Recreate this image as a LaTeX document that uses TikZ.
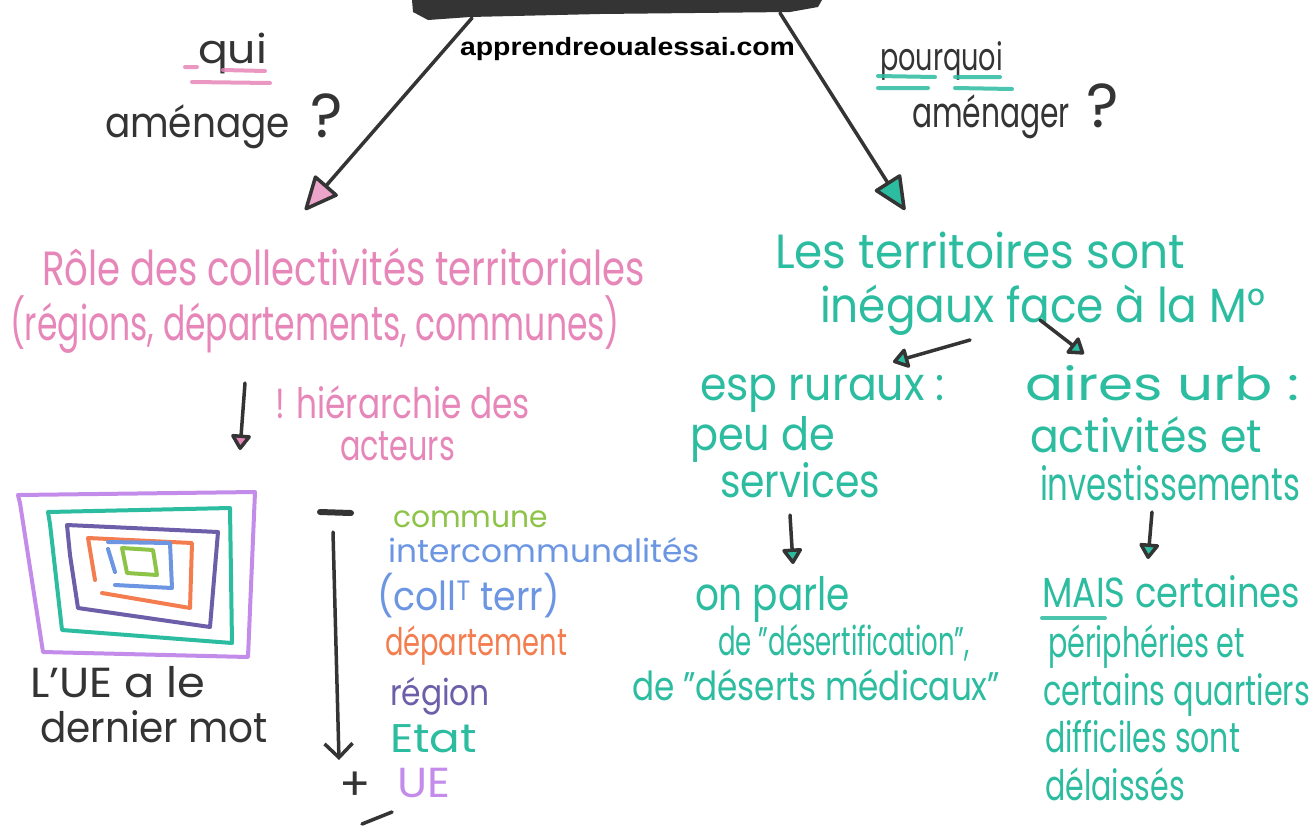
\documentclass[tikz,border=0pt]{standalone}
\usepackage{fontspec}
\setmainfont{Poppins}
\newfontfamily\webfont{Liberation Sans}
\usetikzlibrary{arrows.meta}
\definecolor{pinkc}{RGB}{231,134,184}
\definecolor{tealc}{RGB}{44,188,160}
\definecolor{greenc}{RGB}{141,196,72}
\definecolor{bluec}{RGB}{108,150,226}
\definecolor{orangec}{RGB}{244,125,80}
\definecolor{indigoc}{RGB}{108,94,168}
\definecolor{lilacc}{RGB}{196,140,234}
\definecolor{inkc}{RGB}{52,52,52}
\newcommand\hw[2]{\resizebox{#1pt}{\height}{#2}}
\tikzset{
  hand/.style={inner sep=0pt, outer sep=0pt, anchor=base west, font=\fontsize{#1}{#1}\selectfont},
  web/.style={inner sep=0pt, outer sep=0pt, anchor=base west, font=\webfont\bfseries\fontsize{25}{25}\selectfont},
  conn/.style={draw=inkc, line width=3.5pt, line cap=round},
  bighead/.style={conn, -{Triangle[round, length=36pt, width=32pt, fill=#1]}},
  smallhead/.style={conn, -{Triangle[round, length=17pt, width=22pt, fill=#1]}},
  marker/.style={draw=#1, line width=4pt, line cap=round, line join=round},
  uline/.style={draw=#1, line width=4pt, line cap=round, opacity=0.85},
}
\begin{document}
\begin{tikzpicture}[x=1pt,y=-1pt]
\useasboundingbox (0,0) rectangle (1313,825);
\fill[white] (0,0) rectangle (1313,825);

% title bar (cropped)
\fill[inkc] (412,0) -- (822,0) -- (818,7) -- (790,12) -- (600,14) -- (470,17) -- (428,20) -- (413,12) -- cycle;
\coordinate (barL) at (472,18);
\coordinate (barR) at (780,13);
\node[web] (site) at (460,55) {\hw{335}{apprendreoualessai.com}};

% left question
\node[hand=40, text=inkc] (qui) at (198,63) {\hw{69}{qui}};
\draw[uline=pinkc] (185,67) -- (197,67) (223,70) -- (265,71);
\draw[uline=pinkc] (192,82) -- (270,83);
\node[hand=42, text=inkc] (amenage) at (105,137) {\hw{185}{aménage}\hspace{20pt}{\fontsize{62}{62}\selectfont ?}};

% right question
\node[hand=38, text=inkc] (pourquoi) at (880,70) {\hw{123}{pourquoi}};
\draw[uline=tealc] (878,76) -- (935,77) (955,77) -- (1000,77);
\draw[uline=tealc] (878,88) -- (928,88) (955,88) -- (1012,89);
\node[hand=42, text=inkc] (amenager) at (912,127) {\hw{158}{aménager}\hspace{16pt}{\fontsize{62}{62}\selectfont ?}};

% main arrows
\coordinate (tipL) at (305,210);
\coordinate (tipR) at (905,210);
\draw[bighead=pinkc!75] (barL) -- (tipL);
\draw[bighead=tealc] (barR) -- (tipR);

% left block
\node[hand=48, text=pinkc] (role) at (42,285) {\hw{603}{Rôle des collectivités territoriales}};
\node[hand=48, text=pinkc] (regions) at (10,340) {\hw{610}{(régions, départements, communes)}};
\coordinate (hA) at (245,383);
\coordinate (hB) at (240,450);
\draw[smallhead=pinkc] (hA) -- (hB);
\node[hand=42, text=pinkc] (hier) at (275,418) {\hw{255}{! hiérarchie des}};
\node[hand=42, text=pinkc] (acteurs) at (340,460) {\hw{115}{acteurs}};

% nested frames
\draw[marker=lilacc] (20,503) -- (18,495) -- (255,492) -- (248,657) -- (43,652) -- (20,503);
\draw[marker=tealc] (50,524) -- (48,512) -- (230,508) -- (232,643) -- (62,630) -- (50,524);
\draw[marker=indigoc] (70,555) -- (67,525) -- (218,532) -- (210,627) -- (78,608) -- (70,555);
\draw[marker=orangec] (95,580) -- (88,538) -- (192,543) -- (190,608) -- (102,593);
\draw[marker=bluec] (108,542) -- (170,543) -- (172,588) -- (115,585);
\draw[marker=bluec] (108,549) -- (115,572);
\draw[marker=greenc] (122,548) -- (153,550) -- (157,575) -- (127,573) -- cycle;
\node[hand=42, text=inkc] (ue1) at (30,697) {\hw{175}{L'UE a le}};
\node[hand=42, text=inkc] (ue2) at (40,742) {\hw{228}{dernier mot}};

% hierarchy scale
\draw[inkc, line width=6pt, line cap=round] (320,512) -- (351,513);
\coordinate (sTop) at (333,532);
\coordinate (sBot) at (339,760);
\draw[conn, -{Straight Barb[length=14pt, width=28pt]}] (sTop) -- (sBot);
\node[hand=46, text=inkc, anchor=center] (plus) at (355,786) {+};
\draw[inkc, line width=3.5pt, line cap=round] (362,824) -- (392,812);

\node[hand=30, text=greenc] (commune) at (393,527) {\hw{155}{commune}};
\node[hand=32, text=bluec] (interco) at (388,562) {\hw{312}{intercommunalités}};
\node[hand=40, text=bluec] (coll) at (377,610) {\hw{183}{(coll\textsuperscript{T} terr)}};
\node[hand=38, text=orangec] (dep) at (385,655) {\hw{182}{département}};
\node[hand=36, text=indigoc] (reg) at (390,705) {\hw{100}{région}};
\node[hand=40, text=tealc] (etat) at (390,752) {\hw{87}{Etat}};
\node[hand=42, text=lilacc] (ue) at (397,797) {\hw{53}{UE}};

% right block
\node[hand=48, text=tealc] (terr1) at (775,268) {\hw{410}{Les territoires sont}};
\node[hand=48, text=tealc] (terr2) at (820,322) {\hw{445}{inégaux face à la M°}};
\coordinate (aL1) at (970,340);
\coordinate (aL2) at (893,362);
\coordinate (aR1) at (1040,320);
\coordinate (aR2) at (1084,354);
\draw[smallhead=tealc] (aL1) -- (aL2);
\draw[smallhead=tealc] (aR1) -- (aR2);

\node[hand=46, text=tealc] (esp1) at (700,400) {\hw{245}{esp ruraux :}};
\node[hand=46, text=tealc] (esp2) at (690,450) {\hw{145}{peu de}};
\node[hand=46, text=tealc] (esp3) at (720,497) {\hw{160}{services}};
\node[hand=46, text=tealc] (aire1) at (1025,400) {\hw{275}{aires urb :}};
\node[hand=46, text=tealc] (aire2) at (1030,452) {\hw{232}{activités et}};
\node[hand=46, text=tealc] (aire3) at (1040,500) {\hw{260}{investissements}};

\coordinate (dA) at (790,515);
\coordinate (dB) at (793,564);
\coordinate (dC) at (1152,512);
\coordinate (dD) at (1148,559);
\draw[smallhead=tealc] (dA) -- (dB);
\draw[smallhead=tealc] (dC) -- (dD);

\node[hand=46, text=tealc] (on1) at (695,610) {\hw{155}{on parle}};
\node[hand=40, text=tealc] (on2) at (718,655) {\hw{252}{de "désertification",}};
\node[hand=40, text=tealc] (on3) at (632,700) {\hw{368}{de "déserts médicaux"}};

\node[hand=42, text=tealc] (mais1) at (1042,607) {\hw{258}{MAIS certaines}};
\draw[uline=tealc] (1042,618) -- (1105,618);
\node[hand=42, text=tealc] (mais2) at (1048,657) {\hw{197}{périphéries et}};
\node[hand=42, text=tealc] (mais3) at (1043,705) {\hw{267}{certains quartiers}};
\node[hand=42, text=tealc] (mais4) at (1045,752) {\hw{195}{difficiles sont}};
\node[hand=42, text=tealc] (mais5) at (1045,800) {\hw{140}{délaissés}};
\end{tikzpicture}
\end{document}
